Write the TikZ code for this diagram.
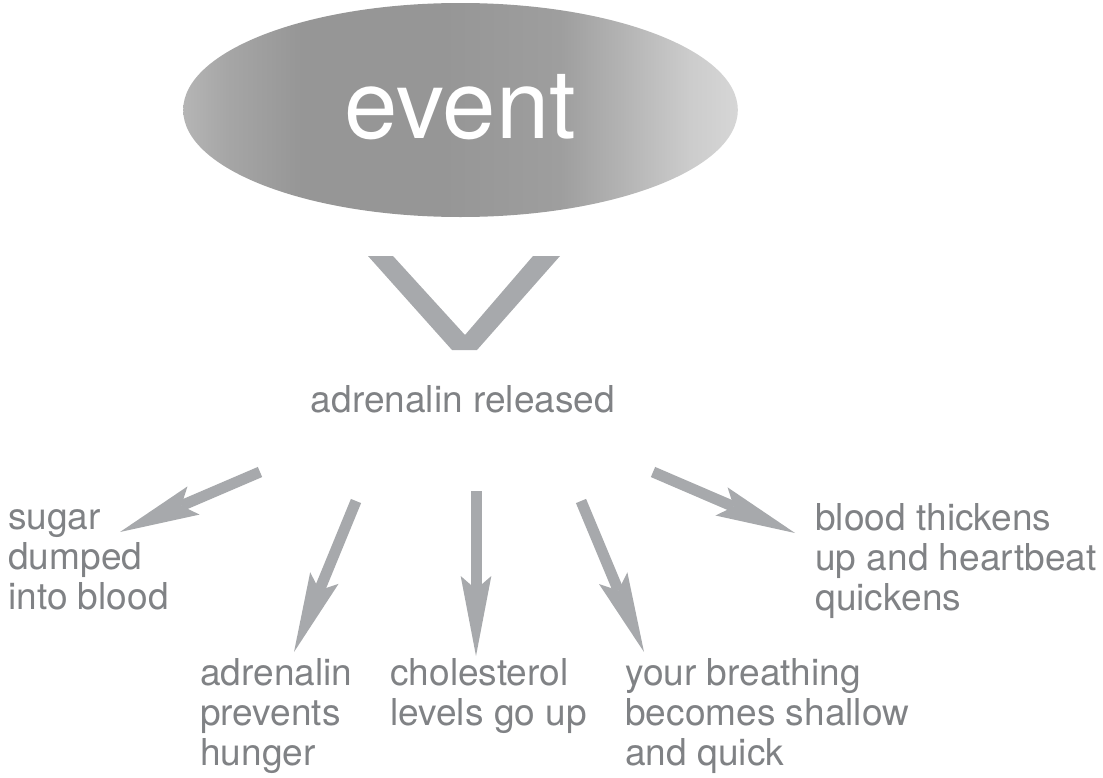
\documentclass[tikz,border=0pt]{standalone}
\usepackage{fontspec}
\setmainfont{TeX Gyre Heros}
\usetikzlibrary{arrows.meta,shapes.geometric}

\definecolor{txtgray}{RGB}{128,130,133}
\definecolor{arrgray}{RGB}{167,169,172}
\pgfdeclarehorizontalshading{evshade}{100bp}{gray(0bp)=(0.71); gray(25bp)=(0.71);
  gray(29bp)=(0.65); gray(35.5bp)=(0.59); gray(49bp)=(0.59); gray(59bp)=(0.62);
  gray(64.4bp)=(0.70); gray(70.7bp)=(0.80); gray(75bp)=(0.84); gray(100bp)=(0.84)}

\tikzset{
  lbl/.style={font=\fontsize{27.8pt}{30pt}\selectfont, text=txtgray,
    align=left, inner sep=0pt, anchor=base west},
  arr/.style={draw=arrgray, line width=8.25pt,
    -{Stealth[length=60pt, width=23pt, inset=10pt, line width=0pt]}}
}

\begin{document}
\begin{tikzpicture}[x=0.75pt,y=-0.75pt]
  \useasboundingbox (0,0) rectangle (1103,778);

  \node[ellipse, shading=evshade, minimum width=416pt, minimum height=160.5pt,
    inner sep=0pt] (ev) at (460.5,110) {};
  \node[font=\fontsize{72pt}{72pt}\selectfont, text=white, inner sep=0pt,
    anchor=base] (evtxt) at (460.5,138) {event};

  % the big V
  \fill[arrgray] (368,256) -- (393,256) -- (465,335) -- (533,256)
    -- (560,256) -- (477,350) -- (452,350) -- cycle;

  \node[lbl, anchor=base] (adr) at (463,412) {adrenalin released};

  % base of a label = baseline of its last line
  \node[lbl] (sugar) at (8,609) {sugar\\dumped\\into blood};
  \node[lbl] (hunger) at (200,765) {adrenalin\\prevents\\hunger};
  \node[lbl] (chol) at (390,725) {cholesterol\\levels go up};
  \node[lbl] (breath) at (625,765) {your breathing\\becomes shallow\\and quick};
  \node[lbl] (blood) at (815,610) {blood thickens\\up and heartbeat\\quickens};

  \coordinate (t1) at (260,472);
  \coordinate (h1) at (120,532);
  \coordinate (t2) at (356,501);
  \coordinate (h2) at (294,652);
  \coordinate (t3) at (476,491);
  \coordinate (h3) at (476,656);
  \coordinate (t4) at (581,501);
  \coordinate (h4) at (644,652);
  \coordinate (t5) at (653,472);
  \coordinate (h5) at (795,533);

  \foreach \i in {1,...,5}
    \draw[arr] (t\i) -- (h\i);
\end{tikzpicture}
\end{document}
